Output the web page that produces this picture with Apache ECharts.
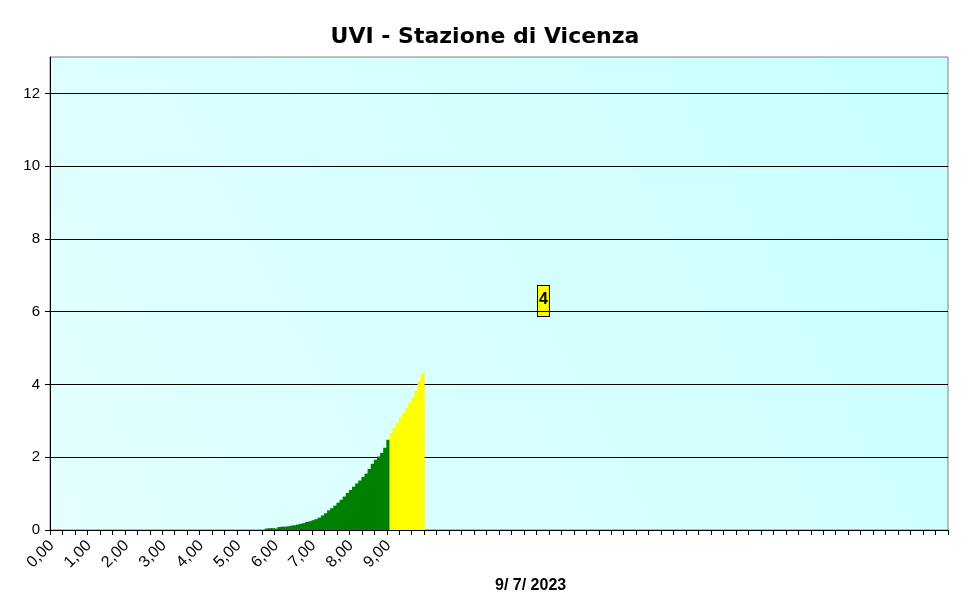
<!DOCTYPE html>
<html>
<head>
<meta charset="utf-8">
<script src="https://cdn.jsdelivr.net/npm/echarts@6/dist/echarts.min.js"></script>
<style>html,body{margin:0;padding:0;background:#fff}#c{width:970px;height:604px}</style>
</head>
<body>
<div id="c"></div>
<script>
// ---- data ----
var titleText = 'UVI - Stazione di Vicenza';
var dateText = '9/ 7/ 2023';
var stepMinutes = 5;                 // one category every 5 minutes, 0:00 .. 23:55
var dataStartTime = '5,45';          // first reading
var dataEndTime = '9,55';            // last reading
var hourLabels = ['0,00','1,00','2,00','3,00','4,00','5,00','6,00','7,00','8,00','9,00'];
var uviValues = [
  0.04, 0.05, 0.05, 0.04, 0.08, 0.09, 0.09, 0.10, 0.12, 0.13,
  0.15, 0.17, 0.19, 0.22, 0.24, 0.27, 0.30, 0.34, 0.40, 0.46,
  0.54, 0.60, 0.67, 0.75, 0.83, 0.92, 1.02, 1.10, 1.19, 1.28,
  1.36, 1.46, 1.55, 1.68, 1.82, 1.93, 2.02, 2.12, 2.26, 2.48,
  2.66, 2.82, 2.95, 3.08, 3.22, 3.36, 3.50, 3.65, 3.83, 4.08, 4.30
];
var yTicks = [0, 2, 4, 6, 8, 10, 12];
var yMax = 13;
var lowThreshold = 2.5;   // UVI rounds to 0-2 -> green, 3-5 -> yellow

// ---- build categories ----
function fmt(totalMin) {
  var h = Math.floor(totalMin / 60), m = totalMin % 60;
  return h + ',' + (m < 10 ? '0' + m : m);
}
var categories = [];
for (var t = 0; t < 24 * 60; t += stepMinutes) categories.push(fmt(t));
var startIdx = categories.indexOf(dataStartTime);
var endIdx = categories.indexOf(dataEndTime);
var seriesData = categories.map(function (c, i) {
  if (i < startIdx || i > endIdx) return null;
  var v = uviValues[i - startIdx];
  return { value: v, itemStyle: { color: v >= lowThreshold ? '#ffff00' : '#008000' } };
});
var lastValue = uviValues[uviValues.length - 1];

var chart = echarts.init(document.getElementById('c'), null, { renderer: 'canvas' });
chart.setOption({
  animation: false,
  backgroundColor: '#ffffff',
  title: {
    text: titleText,
    left: 'center',
    top: 21,
    textStyle: { fontFamily: 'DejaVu Sans', fontWeight: 'bold', fontSize: 22, color: '#000' }
  },
  grid: {
    left: 50, right: 22, top: 57, bottom: 74,
    show: true,
    borderColor: '#808080',
    borderWidth: 1,
    backgroundColor: {
      type: 'linear', x: 1, y: 0, x2: 0, y2: 1,
      colorStops: [{ offset: 0, color: '#c8ffff' }, { offset: 1, color: '#e4ffff' }]
    }
  },
  xAxis: {
    type: 'category',
    data: categories,
    boundaryGap: true,
    axisLine: { lineStyle: { color: '#000', width: 1 } },
    axisTick: { show: true, interval: 3, length: 5, lineStyle: { color: '#000' } },
    axisLabel: {
      interval: function (idx, val) { return hourLabels.indexOf(val) >= 0 && idx <= endIdx; },
      rotate: 45,
      margin: 13,
      fontFamily: 'Liberation Sans',
      fontSize: 16,
      color: '#000'
    },
    splitLine: { show: false }
  },
  yAxis: {
    type: 'value',
    min: 0, max: yMax, interval: 2,
    axisLine: { show: true, lineStyle: { color: '#000', width: 1 } },
    axisTick: { show: true, length: 5, lineStyle: { color: '#000' } },
    axisLabel: {
      showMaxLabel: false,
      margin: 10,
      fontFamily: 'Liberation Sans', fontSize: 15, color: '#000',
      formatter: function (v) { return yTicks.indexOf(v) >= 0 ? String(v) : ''; }
    },
    splitLine: { show: true, showMaxLine: false, lineStyle: { color: '#000', width: 1 } }
  },
  series: [{
    type: 'bar',
    data: seriesData,
    barWidth: 4,
    barGap: '-100%',
    silent: true
  }],
  graphic: [
    {
      type: 'text',
      left: 495, top: 578,
      style: { text: dateText, fontFamily: 'Liberation Sans', fontWeight: 'bold', fontSize: 16, fill: '#000' }
    },
    {
      type: 'text',
      left: 537, top: 285,
      style: {
        text: String(Math.round(lastValue)),
        fontFamily: 'Liberation Sans', fontWeight: 'bold', fontSize: 16, fill: '#000',
        backgroundColor: '#ffff00', borderColor: '#000', borderWidth: 1,
        padding: [6, 1, 8, 1]
      }
    }
  ]
});
</script>
</body>
</html>
